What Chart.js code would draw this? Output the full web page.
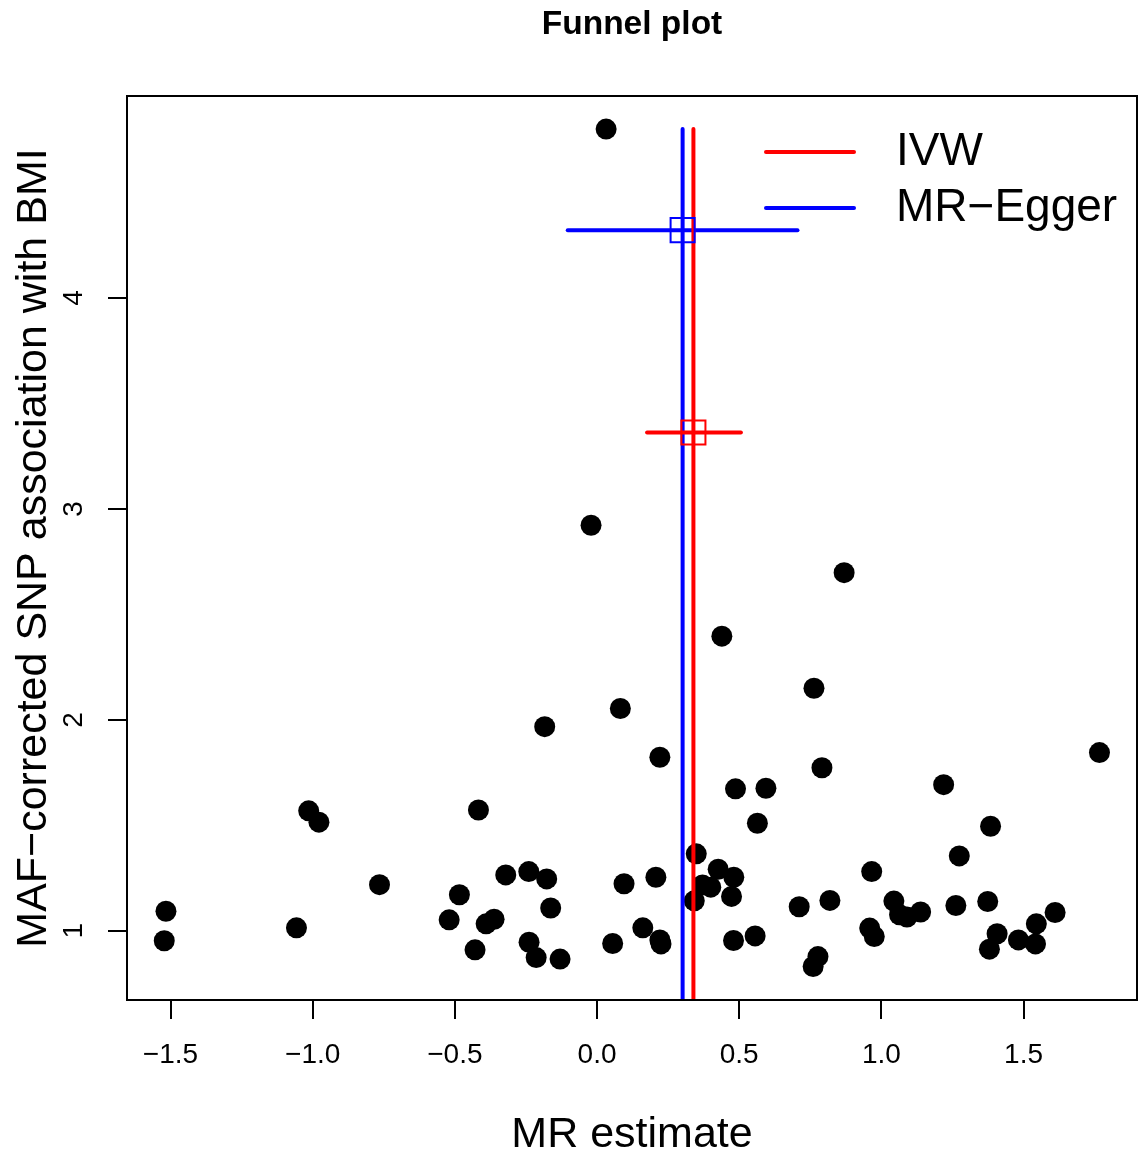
<!DOCTYPE html>
<html>
<head>
<meta charset="utf-8">
<title>Funnel plot</title>
<script src="https://cdn.jsdelivr.net/npm/chart.js@4.4.1/dist/chart.umd.min.js"></script>
<style>
  html, body { margin: 0; padding: 0; background: #fff; overflow: hidden; }
</style>
</head>
<body>
<canvas id="funnel" width="1143" height="1154"></canvas>
<script>
// per-SNP causal estimates (x) and MAF-corrected precision (y)
const snpEstimates = [
  -1.516, -1.522, -1.057, -1.014, -0.978, -0.765, -0.520, -0.484, -0.429, -0.417,
  -0.390, -0.362, -0.321, -0.240, -0.239, -0.214, -0.177, -0.163, -0.184, -0.130,
  -0.021, 0.032, 0.055, 0.082, 0.095, 0.161, 0.207, 0.221, 0.221, 0.225,
  0.342, 0.349, 0.371, 0.400, 0.426, 0.439, 0.473, 0.481, 0.480, 0.487,
  0.556, 0.564, 0.594, 0.711, 0.760, 0.777, 0.763, 0.791, 0.819, 0.869,
  0.959, 0.975, 0.966, 1.044, 1.064, 1.090, 1.138, 1.219, 1.262, 1.274,
  1.374, 1.380, 1.384, 1.407, 1.482, 1.542, 1.545, 1.611, 1.767
];
const snpPrecision = [
  1.093, 0.953, 1.014, 1.569, 1.515, 1.219, 1.052, 1.171, 0.910, 1.573,
  1.033, 1.055, 1.265, 1.281, 0.946, 0.873, 1.246, 1.108, 1.968, 0.866,
  2.923, 4.801, 0.940, 2.054, 1.223, 1.014, 1.254, 1.823, 0.957, 0.938,
  1.142, 1.365, 1.217, 1.207, 1.292, 2.397, 1.163, 1.254, 0.954, 1.673,
  0.976, 1.510, 1.676, 1.114, 0.831, 0.878, 2.150, 1.773, 1.144, 2.698,
  1.013, 0.973, 1.281, 1.141, 1.076, 1.065, 1.089, 1.693, 1.120, 1.355,
  1.139, 0.913, 1.496, 0.986, 0.957, 0.938, 1.033, 1.087, 1.845
];

// method estimates: [estimate, lower CI, upper CI, height of CI bar]
const ivwResult = [0.339, 0.176, 0.506, 3.363];
const eggerResult = [0.301, -0.103, 0.705, 4.322];
const methodLabels = ["IVW", "MR\u2212Egger"];
const methodColors = ["#ff0000", "#0000ff"];

const xTicks = [-1.5, -1.0, -0.5, 0.0, 0.5, 1.0, 1.5];
const yTicks = [1, 2, 3, 4];
const xRange = [-1.653, 1.899];
const yRange = [0.672, 4.958];

const FONT = '"Liberation Sans", Arial, Helvetica, sans-serif';
const topY = Math.max(...snpPrecision);

function methodSets(res, label, color) {
  const line = { borderColor: color, borderWidth: 4, borderCapStyle: "round", pointRadius: 0, showLine: true, fill: false, order: 1 };
  return [
    Object.assign({ label: label, data: [{ x: res[0], y: 0 }, { x: res[0], y: topY }] }, line),
    Object.assign({ label: label + " CI", data: [{ x: res[1], y: res[3] }, { x: res[2], y: res[3] }] }, line),
    {
      label: label + " point",
      data: [{ x: res[0], y: res[3] }],
      pointStyle: "rect", pointRadius: 17, borderColor: color, borderWidth: 2,
      backgroundColor: "rgba(0,0,0,0)", showLine: false, order: 0
    }
  ];
}

const pageBits = {
  id: "pageBits",
  afterDraw(chart) {
    const { ctx, chartArea: a } = chart;
    const y = chart.scales.y;
    ctx.save();
    ctx.strokeStyle = "#000";
    ctx.lineWidth = 2;
    ctx.strokeRect(a.left, a.top, a.right - a.left, a.bottom - a.top);

    // y tick labels run parallel to the axis, like R
    ctx.fillStyle = "#000";
    ctx.font = "28px " + FONT;
    ctx.textAlign = "center";
    ctx.textBaseline = "middle";
    yTicks.forEach(v => {
      ctx.save();
      ctx.translate(a.left - 52.5, y.getPixelForValue(v));
      ctx.rotate(-Math.PI / 2);
      ctx.fillText(String(v), 0, 0);
      ctx.restore();
    });

    // legend in the top right corner
    ctx.font = "46px " + FONT;
    ctx.textAlign = "left";
    ctx.lineWidth = 4;
    ctx.lineCap = "round";
    methodLabels.forEach((lab, i) => {
      const ly = a.top + 56 + i * 56;
      ctx.strokeStyle = methodColors[i];
      ctx.beginPath();
      ctx.moveTo(a.right - 371, ly);
      ctx.lineTo(a.right - 283, ly);
      ctx.stroke();
      ctx.fillText(lab, a.right - 241, ly);
    });
    ctx.restore();
  }
};

const axisGrid = { drawOnChartArea: false, drawTicks: true, tickLength: 19, color: "#000", lineWidth: 2 };

new Chart(document.getElementById("funnel"), {
  type: "scatter",
  data: {
    datasets: [
      ...methodSets(ivwResult, methodLabels[0], methodColors[0]),
      ...methodSets(eggerResult, methodLabels[1], methodColors[1]),
      {
        label: "SNPs",
        data: snpEstimates.map((v, i) => ({ x: v, y: snpPrecision[i] })),
        backgroundColor: "#000",
        borderWidth: 0,
        pointRadius: 10.5,
        order: 10
      }
    ]
  },
  options: {
    responsive: false,
    animation: false,
    events: [],
    // big square markers would otherwise push the plot box inwards
    layout: { autoPadding: false, padding: { right: 6 } },
    plugins: {
      legend: { display: false },
      tooltip: { enabled: false },
      title: {
        display: true,
        text: "Funnel plot",
        fullSize: false,
        color: "#000",
        font: { family: FONT, size: 33.5, weight: "bold", lineHeight: 1.2 },
        padding: { top: 5, bottom: 50.8 }
      }
    },
    scales: {
      x: {
        type: "linear",
        min: xRange[0],
        max: xRange[1],
        afterBuildTicks: s => { s.ticks = xTicks.map(v => ({ value: v })); },
        afterFit: s => {
          s.height = 154;
          s.paddingLeft = 0;
          s.paddingRight = 0;
        },
        ticks: {
          color: "#000",
          font: { family: FONT, size: 28 },
          padding: 19,
          maxRotation: 0,
          autoSkip: false,
          callback: v => v.toFixed(1).replace("-", "\u2212")
        },
        grid: axisGrid,
        border: { display: false },
        title: {
          display: true,
          text: "MR estimate",
          color: "#000",
          font: { family: FONT, size: 43, lineHeight: 0.9 },
          padding: 0
        }
      },
      y: {
        type: "linear",
        min: yRange[0],
        max: yRange[1],
        afterBuildTicks: s => { s.ticks = yTicks.map(v => ({ value: v })); },
        afterFit: s => {
          s.width = 127;
          s.paddingTop = 0;
          s.paddingBottom = 0;
        },
        ticks: { display: false },
        grid: axisGrid,
        border: { display: false },
        title: {
          display: true,
          text: "MAF\u2212corrected SNP association with BMI",
          color: "#000",
          font: { family: FONT, size: 43, lineHeight: 0.9 },
          padding: { top: 15, bottom: 0 }
        }
      }
    }
  },
  plugins: [pageBits]
});
</script>
</body>
</html>
